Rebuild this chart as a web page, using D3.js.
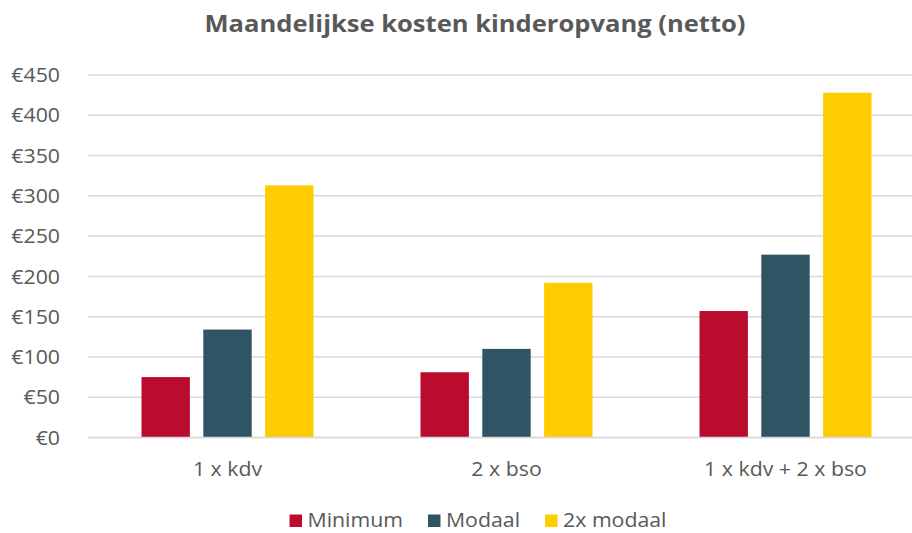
<!DOCTYPE html>
<html>
<head>
<meta charset="utf-8">
<script src="https://cdn.jsdelivr.net/npm/d3@7/dist/d3.min.js"></script>
<style>
  html, body { margin: 0; padding: 0; background: #fff; }
  svg { display: block; font-family: "Open Sans", sans-serif; }
</style>
</head>
<body>
<svg id="chart" width="912" height="533"></svg>
<script>
const title = "Maandelijkse kosten kinderopvang (netto)";
const categories = ["1 x kdv", "2 x bso", "1 x kdv + 2 x bso"];
const seriesNames = ["Minimum", "Modaal", "2x modaal"];
const seriesColors = ["#BA0C2F", "#2F5564", "#FFCC00"];
const minimumValues = [75, 81, 157];
const modaalValues = [134, 110, 227];
const dubbelModaalValues = [313, 192, 428];
const yTicks = [0, 50, 100, 150, 200, 250, 300, 350, 400, 450];

const seriesValues = [minimumValues, modaalValues, dubbelModaalValues];
const svg = d3.select("#chart");
const textColor = "#595959";
const sx = 1.065; // horizontal stretch of the reference's lettering

const plot = { left: 88, right: 925, top: 75, bottom: 437.5 };

const x0 = d3.scaleBand().domain(categories).range([plot.left, plot.right]).paddingInner(0).paddingOuter(0);
const x1 = d3.scaleBand().domain(seriesNames).range([-86, 86]).paddingInner(0.217).paddingOuter(0);
const y = d3.scaleLinear().domain([0, 450]).range([plot.bottom, plot.top]);

function place(sel, fx, fy) {
  return sel.attr("transform", (d, i) => `translate(${fx(d, i)},${fy(d, i)}) scale(${sx},1)`);
}

// title
place(svg.append("text").datum(title), () => 475, () => 32)
  .attr("text-anchor", "middle")
  .attr("font-size", 24).attr("font-weight", 700)
  .attr("fill", textColor)
  .text(title);

// gridlines
svg.append("g").selectAll("line").data(yTicks).join("line")
  .attr("x1", plot.left).attr("x2", 912)
  .attr("y1", d => y(d)).attr("y2", d => y(d))
  .attr("stroke", "#d9d9d9").attr("stroke-width", 1.5);

// y labels
place(svg.append("g").selectAll("text").data(yTicks).join("text"), () => 60, d => y(d))
  .attr("dy", "0.36em")
  .attr("text-anchor", "end")
  .attr("font-size", 20)
  .attr("fill", textColor)
  .text(d => "€" + d);

// bars
const groups = svg.append("g").selectAll("g").data(categories).join("g")
  .attr("transform", c => `translate(${x0(c) + x0.bandwidth() / 2},0)`);
groups.selectAll("rect").data((c, i) => seriesNames.map((s, j) => ({ s, j, v: seriesValues[j][i] })))
  .join("rect")
  .attr("x", d => x1(d.s))
  .attr("width", x1.bandwidth())
  .attr("y", d => y(d.v))
  .attr("height", d => y(0) - y(d.v))
  .attr("fill", d => seriesColors[d.j]);

// baseline
svg.append("line")
  .attr("x1", plot.left).attr("x2", 912)
  .attr("y1", y(0)).attr("y2", y(0))
  .attr("stroke", "#d9d9d9").attr("stroke-width", 1.5);

// category labels
place(svg.append("g").selectAll("text").data(categories).join("text"),
      c => x0(c) + x0.bandwidth() / 2, () => 476)
  .attr("text-anchor", "middle")
  .attr("font-size", 20)
  .attr("fill", textColor)
  .text(c => c);

// legend
const legend = svg.append("g");
const items = legend.selectAll("g").data(seriesNames).join("g");
items.append("rect")
  .attr("width", 12.5).attr("height", 12.5)
  .attr("y", -12.5)
  .attr("fill", (d, i) => seriesColors[i]);
items.append("text")
  .attr("transform", `translate(18,0) scale(${sx},1)`)
  .attr("font-size", 20)
  .attr("fill", textColor)
  .text(d => d);
const widths = [];
items.each(function() { widths.push(this.querySelector("text").getComputedTextLength() * sx + 18); });
const gap = 25;
const total = d3.sum(widths) + gap * (widths.length - 1);
let start = 478 - total / 2;
items.attr("transform", (d, i) => {
  const t = `translate(${start},527)`;
  start += widths[i] + gap;
  return t;
});
</script>
</body>
</html>
